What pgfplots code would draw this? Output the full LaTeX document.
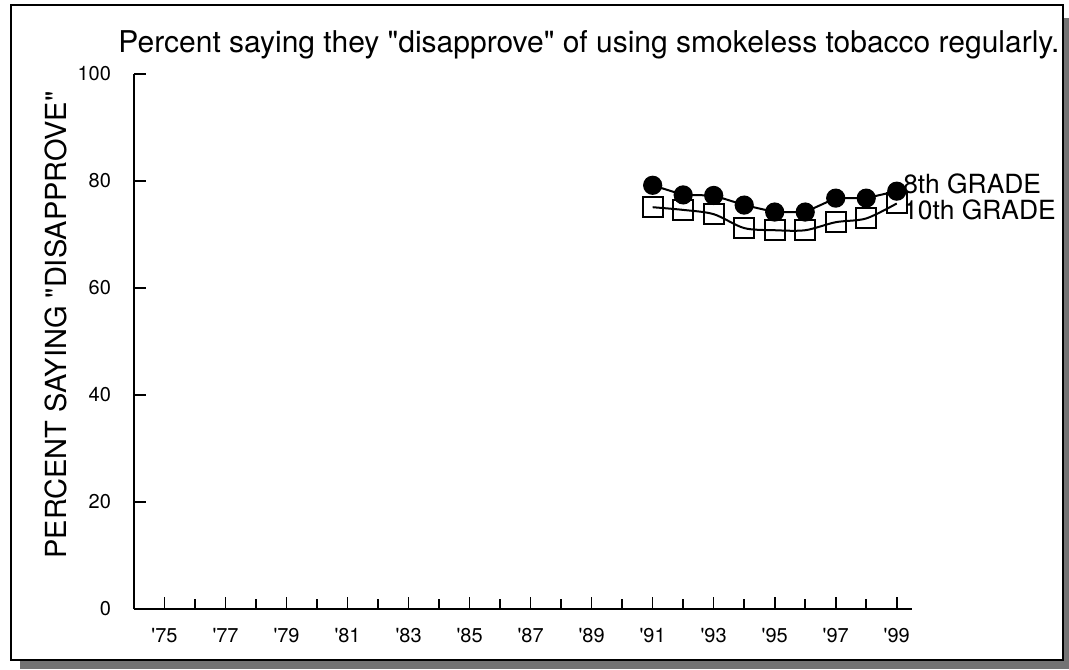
\documentclass[border=0pt]{standalone}
\usepackage{fontspec}
\setmainfont{TeX Gyre Heros}
\usepackage{pgfplots}
\pgfplotsset{compat=1.18}
\begin{document}
\begin{tikzpicture}
\useasboundingbox (0,0) rectangle (534.5pt,-334.5pt);
% shadow
\fill[black!55] (531.5pt,-9pt) rectangle (534.5pt,-334.5pt);
\fill[black!55] (10pt,-330.5pt) rectangle (534.5pt,-334.5pt);
\fill[white] (5.5pt,-2.5pt) rectangle (531.5pt,-330pt);
\draw[line width=1pt] (5.5pt,-2.5pt) rectangle (531.5pt,-330pt);
\node[font=\fontsize{15}{17}\selectfont] at (294.5pt,-22.5pt) {Percent saying they \textquotedbl disapprove\textquotedbl{} of using smokeless tobacco regularly.};
\node[font=\fontsize{14.5}{16}\selectfont, rotate=90] at (28pt,-162.5pt) {PERCENT SAYING \textquotedbl DISAPPROVE\textquotedbl};
\begin{axis}[
  at={(67pt,-304.5pt)}, anchor=south west,
  scale only axis, width=389pt, height=267.5pt,
  xmin=1974, xmax=1999.5, ymin=0, ymax=100,
  axis lines*=left, axis line style={-, line width=1pt},
  tick align=inside,
  ytick={0,20,40,60,80,100},
  yticklabel style={font=\fontsize{10}{12}\selectfont, xshift=-8pt},
  /pgf/number format/assume math mode=true,
  xtick={1975,1977,...,1999},
  minor xtick={1976,1978,...,1998},
  xticklabels={\textquotesingle75,\textquotesingle77,\textquotesingle79,\textquotesingle81,\textquotesingle83,\textquotesingle85,\textquotesingle87,\textquotesingle89,\textquotesingle91,\textquotesingle93,\textquotesingle95,\textquotesingle97,\textquotesingle99},
  xticklabel style={font=\fontsize{10}{12}\selectfont, yshift=-6pt},
  major tick length=6pt, minor tick length=5pt,
  x tick style={line width=0.8pt, black}, y tick style={line width=0.8pt, black},
  clip=false,
]
\addplot[black, line width=1pt, smooth, mark=square, mark size=5pt, mark options={line width=1pt}]
coordinates {(1991,75.1) (1992,74.6) (1993,73.8) (1994,71.2) (1995,70.8) (1996,70.8) (1997,72.3) (1998,73.0) (1999,75.8)};
\addplot[black, line width=1pt, mark=*, mark size=4.3pt]
coordinates {(1991,79.2) (1992,77.4) (1993,77.3) (1994,75.5) (1995,74.2) (1996,74.2) (1997,76.8) (1998,76.8) (1999,78.1)};
\node[anchor=west, font=\fontsize{13.2}{15}\selectfont, inner sep=0pt] at (axis cs:1999.2,79.4) {8th GRADE};
\node[anchor=west, font=\fontsize{13.2}{15}\selectfont, inner sep=0pt] at (axis cs:1999.2,74.6) {10th GRADE};
\end{axis}
\end{tikzpicture}
\end{document}
